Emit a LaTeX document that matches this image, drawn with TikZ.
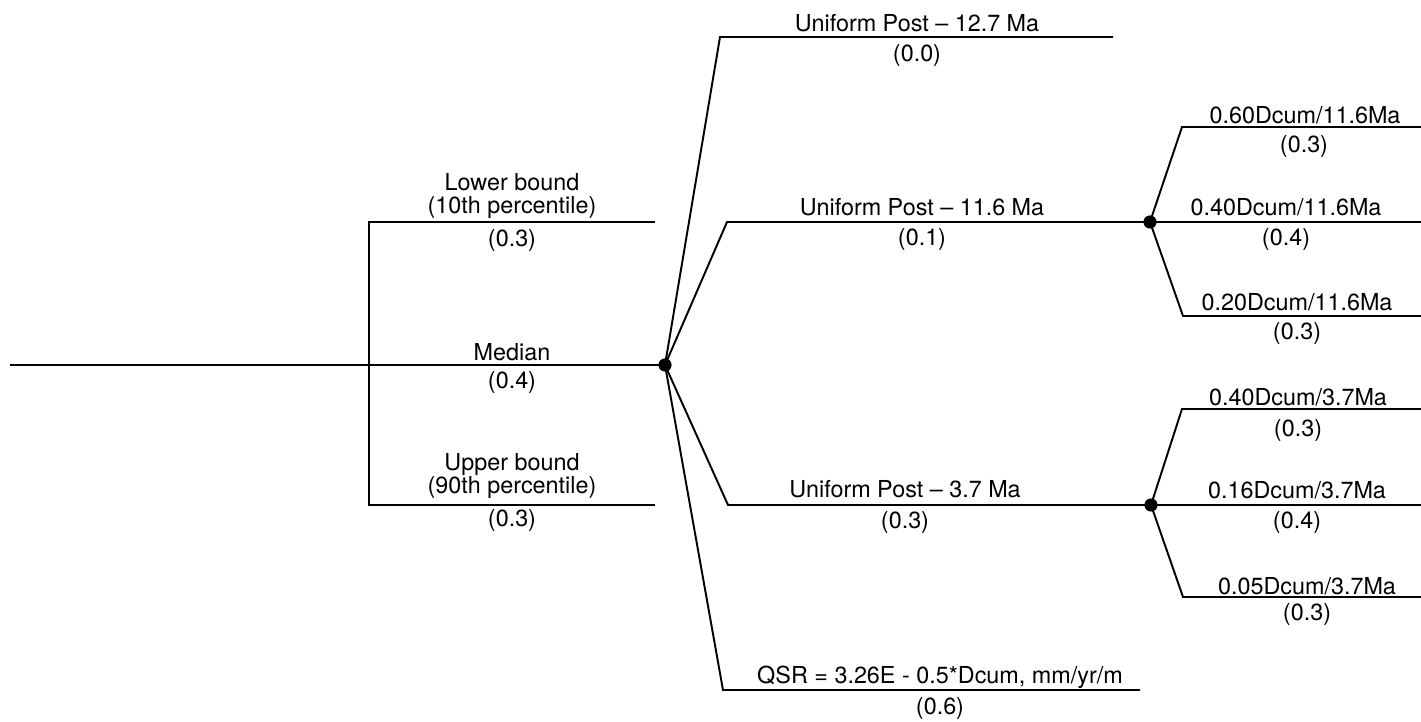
\documentclass[tikz,border=0pt]{standalone}
\usepackage{fontspec}
\setmainfont{TeX Gyre Heros}
\usetikzlibrary{positioning}

\tikzset{
  branch/.style={line width=1.1pt},
  chance/.style={circle, fill=black, inner sep=0pt, minimum size=7.5pt},
  lbl/.style={font=\fontsize{13.3}{13.5}\selectfont, inner sep=0pt, align=center}
}

\begin{document}
\begin{tikzpicture}[x=0.02cm, y=-0.02cm]
  \useasboundingbox (0,0) rectangle (1421,722);

  \coordinate (root) at (10,365);
  \coordinate (fork) at (369,365);
  \coordinate (lowS) at (369,222);
  \coordinate (lowE) at (655,222);
  \coordinate (upS) at (369,505);
  \coordinate (upE) at (655,505);
  \node[chance] (c1) at (665,365) {};
  \node[chance] (c2) at (1150,222) {};
  \node[chance] (c3) at (1151,505) {};

  \coordinate (ua) at (720,37);   \coordinate (uaE) at (1113,37);
  \coordinate (ub) at (727,222);
  \coordinate (uc) at (728,505);
  \coordinate (qs) at (723,690);  \coordinate (qsE) at (1140,690);

  \coordinate (b1) at (1182,127); \coordinate (b1E) at (1421,127);
  \coordinate (b2E) at (1421,222);
  \coordinate (b3) at (1183,316); \coordinate (b3E) at (1421,316);
  \coordinate (d1) at (1182,409); \coordinate (d1E) at (1421,409);
  \coordinate (d2E) at (1421,505);
  \coordinate (d3) at (1183,597); \coordinate (d3E) at (1421,597);

  % erosion-rate percentiles
  \draw[branch] (root) -- (c1.center);
  \draw[branch] (lowE) -- (lowS) -- (upS) -- (upE);
  \node[lbl] (lowT) at (512,196) {Lower bound\\(10th percentile)};
  \node[lbl] (lowP) at (512,240) {(0.3)};
  \node[lbl] (medT) at (512,352) {Median};
  \node[lbl] (medP) at (512,382) {(0.4)};
  \node[lbl] (upT) at (512,476) {Upper bound\\(90th percentile)};
  \node[lbl] (upP) at (512,520) {(0.3)};

  % uplift models
  \draw[branch] (c1.center) -- (ua) -- (uaE);
  \draw[branch] (c1.center) -- (ub) -- (c2.center);
  \draw[branch] (c1.center) -- (uc) -- (c3.center);
  \draw[branch] (c1.center) -- (qs) -- (qsE);
  \node[lbl] (uaT) at (917,23) {Uniform Post -- 12.7 Ma};
  \node[lbl] (uaP) at (917,55) {(0.0)};
  \node[lbl] (ubT) at (922,207) {Uniform Post -- 11.6 Ma};
  \node[lbl] (ubP) at (922,239) {(0.1)};
  \node[lbl] (ucT) at (905,489) {Uniform Post -- 3.7 Ma};
  \node[lbl] (ucP) at (905,522) {(0.3)};
  \node[lbl] (qsT) at (940,677) {QSR = 3.26E - 0.5*Dcum, mm/yr/m};
  \node[lbl] (qsP) at (940,708) {(0.6)};

  % cumulative depth splits
  \draw[branch] (c2.center) -- (b1) -- (b1E);
  \draw[branch] (c2.center) -- (b2E);
  \draw[branch] (c2.center) -- (b3) -- (b3E);
  \node[lbl] (b1T) at (1305,115) {0.60Dcum/11.6Ma};
  \node[lbl] (b1P) at (1304,146) {(0.3)};
  \node[lbl] (b2T) at (1286,207) {0.40Dcum/11.6Ma};
  \node[lbl] (b2P) at (1286,239) {(0.4)};
  \node[lbl] (b3T) at (1297,302) {0.20Dcum/11.6Ma};
  \node[lbl] (b3P) at (1297,333) {(0.3)};

  \draw[branch] (c3.center) -- (d1) -- (d1E);
  \draw[branch] (c3.center) -- (d2E);
  \draw[branch] (c3.center) -- (d3) -- (d3E);
  \node[lbl] (d1T) at (1298,397) {0.40Dcum/3.7Ma};
  \node[lbl] (d1P) at (1298,430) {(0.3)};
  \node[lbl] (d2T) at (1297,490) {0.16Dcum/3.7Ma};
  \node[lbl] (d2P) at (1297,522) {(0.4)};
  \node[lbl] (d3T) at (1307,586) {0.05Dcum/3.7Ma};
  \node[lbl] (d3P) at (1307,614) {(0.3)};
\end{tikzpicture}
\end{document}
